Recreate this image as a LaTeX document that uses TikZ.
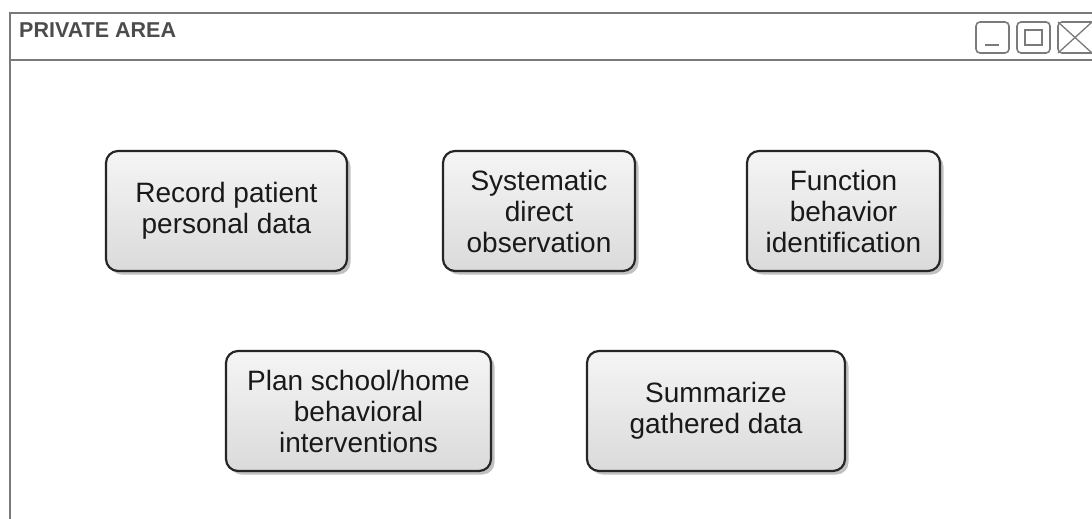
\documentclass[tikz,border=0pt]{standalone}
\usepackage{fontspec}
\setmainfont{Liberation Sans}
\usetikzlibrary{shadows}
\definecolor{frame}{HTML}{7A7A7A}
\definecolor{boxfill}{HTML}{E6E6E6}
\definecolor{boxline}{HTML}{262626}
\tikzset{
  task/.style={draw=boxline, line width=2.2pt, rounded corners=12pt,
    top color=white!60!boxfill, bottom color=boxfill!95!black,
    drop shadow={shadow xshift=3.5pt, shadow yshift=-3.5pt, opacity=0.4, fill=black!60},
    align=center, font=\fontsize{28}{31}\selectfont, text=black!90,
    inner sep=0pt},
  winline/.style={draw=frame, line width=1.6pt},
  btn/.style={draw=frame, line width=1.6pt, rounded corners=4pt}
}
\begin{document}
\begin{tikzpicture}[x=1pt,y=-1pt]
\useasboundingbox (0,0) rectangle (1092,519);
\fill[white] (0,0) rectangle (1092,519);
% window
\draw[winline] (10,525) -- (10,13) -- (1100,13);
\draw[winline] (10,60) -- (1100,60);
\node[anchor=west, inner sep=0pt, font=\bfseries\fontsize{21.5}{24}\selectfont, text=black!70] (title) at (19,30) {PRIVATE AREA};
% buttons
\draw[btn] (976,22) rectangle (1009,53);
\draw[frame, line width=1.8pt] (985,45) -- (999,45);
\draw[btn] (1017,22) rectangle (1050,53);
\draw[frame, line width=1.6pt] (1025,30) rectangle (1042,45);
\draw[btn] (1058,22) rectangle (1098,53);
\draw[frame, line width=1.3pt] (1058,22) -- (1092,53);
\draw[frame, line width=1.3pt] (1058,53) -- (1092,22);
% tasks
\node[task, minimum width=241pt, minimum height=120pt] (rec) at (226.5,211) {Record patient\\personal data};
\node[task, minimum width=192pt, minimum height=120pt] (sys) at (539,211) {Systematic\\direct\\observation};
\node[task, minimum width=193pt, minimum height=120pt] (fun) at (843.5,211) {Function\\behavior\\identification};
\node[task, minimum width=265pt, minimum height=120pt] (plan) at (358.5,411) {Plan school/home\\behavioral\\interventions};
\node[task, minimum width=258pt, minimum height=120pt] (sum) at (716,411) {Summarize\\gathered data};
\end{tikzpicture}
\end{document}
